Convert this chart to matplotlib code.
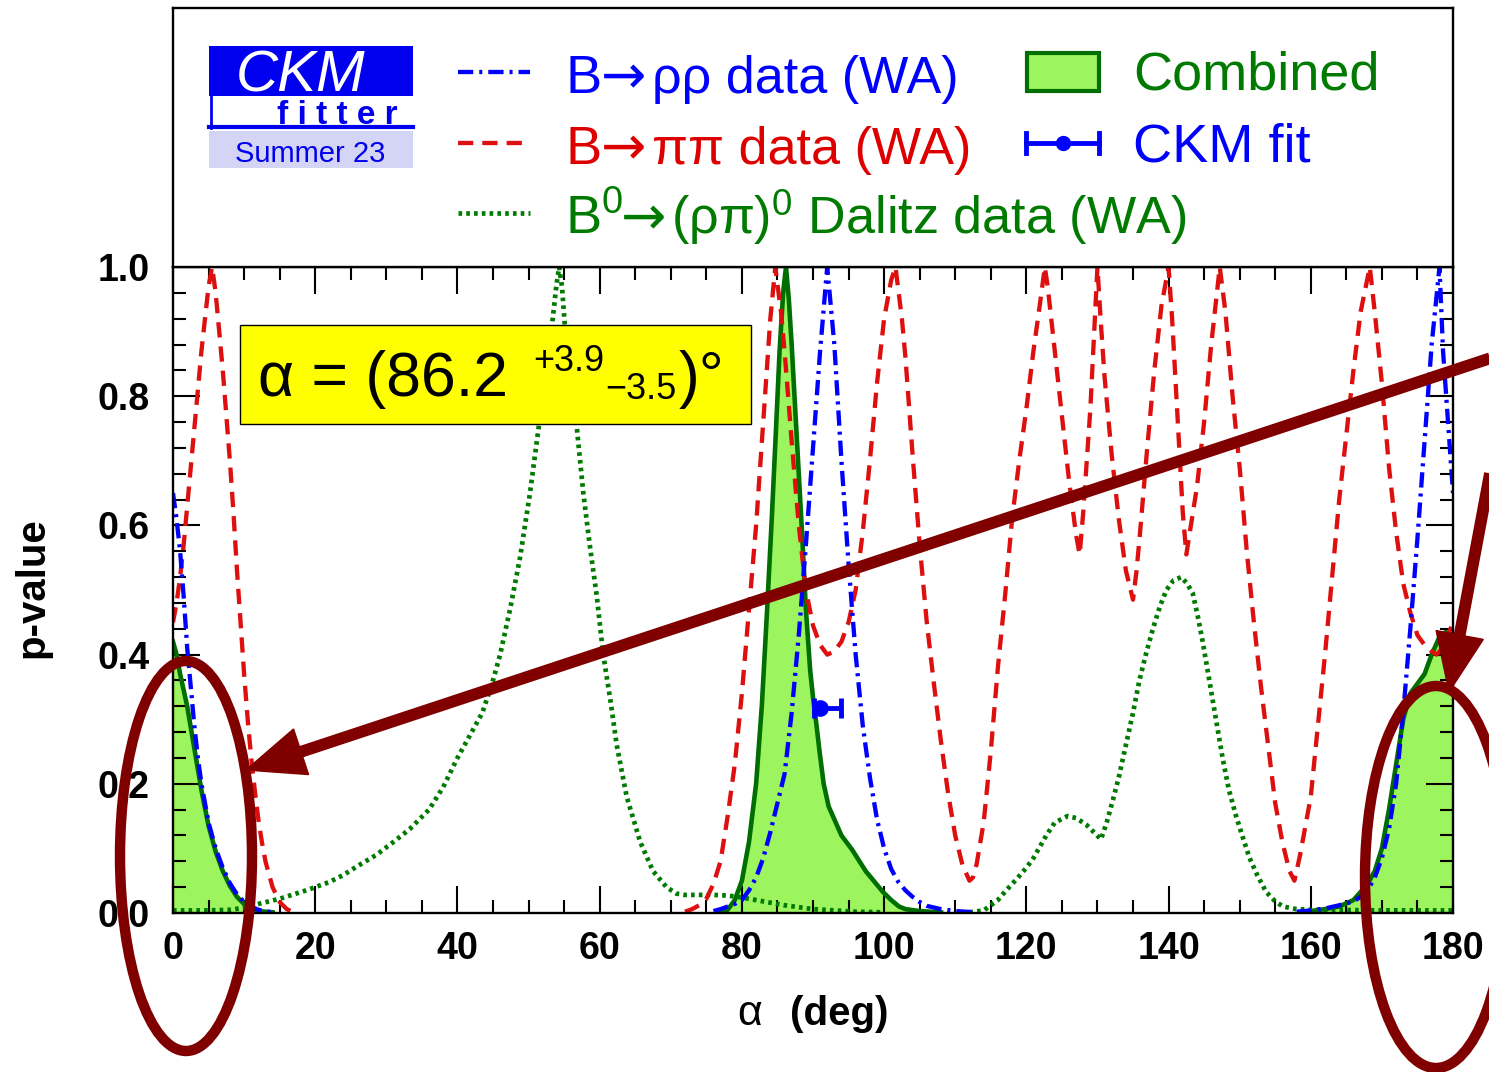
import matplotlib
matplotlib.use("Agg")
import matplotlib.pyplot as plt
from matplotlib.patches import Rectangle, Ellipse, Polygon
from matplotlib.lines import Line2D
from matplotlib.ticker import MultipleLocator, FormatStrFormatter
import numpy as np

W, H, DPI = 1489, 1072, 100

# ---------------- data ----------------
# B -> pi pi (WA)
alpha_pipi = [0, 0.5, 1, 1.5, 2, 2.5, 3, 3.5, 4, 4.5, 5, 5.5, 6, 6.5, 7, 7.5, 8, 8.5, 9, 9.5,
              10, 10.5, 11, 11.5, 12, 12.5, 13, 14, 15, 16, 17, 18,
              71, 72, 73, 74, 75, 76, 77, 78, 79, 80, 81, 82, 83, 84, 84.7, 85.5, 86, 87, 88,
              89, 90, 91, 92, 93, 94, 95, 96, 97, 98, 99, 100, 101, 101.6, 102.5, 103, 104,
              105, 106, 107, 108, 109, 110, 111, 112, 112.5, 113, 114, 115, 116, 117, 118, 119,
              120, 121, 122, 122.6, 123, 124, 125, 126, 127, 127.5, 128, 128.5, 129, 129.5,
              130, 130.5, 131, 132, 133, 134, 135, 135.5, 136, 137, 138, 139, 140, 140.5, 141,
              141.5, 142, 142.5, 143, 144, 145, 146, 147.2, 148, 149, 150, 151, 152, 153, 154,
              155, 156, 157, 157.7, 158.5, 159, 160, 161, 162, 163, 164, 165, 166, 167, 168.3,
              169, 170, 171, 172, 173, 174, 175, 176, 177, 177.7, 178.5, 179.3, 180]
p_pipi = [0.45, 0.48, 0.52, 0.57, 0.63, 0.69, 0.75, 0.81, 0.87, 0.92, 0.97, 1.0, 0.96, 0.90,
          0.84, 0.77, 0.70, 0.62, 0.53, 0.45, 0.37, 0.30, 0.24, 0.19, 0.145, 0.11, 0.08, 0.04,
          0.017, 0.006, 0.001, 0.0,
          0.0, 0.002, 0.006, 0.012, 0.022, 0.045, 0.08, 0.15, 0.23, 0.34, 0.47, 0.60, 0.76,
          0.92, 1.0, 0.93, 0.87, 0.73, 0.60, 0.50, 0.445, 0.415, 0.40, 0.405, 0.42, 0.45, 0.50,
          0.59, 0.70, 0.82, 0.92, 0.98, 1.0, 0.92, 0.86, 0.71, 0.57, 0.45, 0.355, 0.265, 0.185,
          0.12, 0.075, 0.05, 0.055, 0.075, 0.14, 0.25, 0.38, 0.49, 0.61, 0.70, 0.78, 0.87,
          0.95, 1.0, 0.97, 0.87, 0.77, 0.67, 0.585, 0.555, 0.62, 0.70, 0.78, 0.89, 1.0, 0.91,
          0.83, 0.71, 0.61, 0.53, 0.485, 0.53, 0.59, 0.72, 0.84, 0.94, 1.0, 0.92, 0.82, 0.72,
          0.62, 0.555, 0.59, 0.66, 0.76, 0.88, 1.0, 0.93, 0.80, 0.69, 0.56, 0.45, 0.35, 0.26,
          0.17, 0.11, 0.065, 0.05, 0.09, 0.12, 0.18, 0.29, 0.40, 0.52, 0.64, 0.74, 0.84, 0.93,
          1.0, 0.93, 0.82, 0.69, 0.59, 0.51, 0.465, 0.43, 0.415, 0.405, 0.40, 0.41, 0.43, 0.45]

# B -> rho rho (WA)
alpha_rhorho = [0, 0.5, 1, 1.5, 2, 2.5, 3, 3.5, 4, 5, 6, 7, 8, 9, 10, 11, 12, 14, 16,
                74, 76, 77, 78, 79, 80, 81, 82, 83, 84, 85, 86, 87, 88, 89, 90, 91, 92,
                93, 94, 95, 96, 97, 98, 99, 100, 101, 102, 103, 104, 105, 106, 108, 110,
                113, 116, 155, 158, 160, 162, 164, 165, 166, 167, 168, 169, 170, 171, 172,
                173, 174, 175, 176, 177, 178.1, 178.6, 179.3, 180]
p_rhorho = [0.65, 0.61, 0.56, 0.49, 0.41, 0.35, 0.29, 0.24, 0.20, 0.14, 0.10, 0.07, 0.046,
            0.029, 0.017, 0.01, 0.005, 0.001, 0.0,
            0.0, 0.003, 0.006, 0.01, 0.014, 0.02, 0.035, 0.055, 0.085, 0.125, 0.17, 0.215,
            0.31, 0.43, 0.57, 0.72, 0.87, 1.0,
            0.88, 0.70, 0.54, 0.40, 0.29, 0.21, 0.145, 0.10, 0.068, 0.048, 0.035, 0.025,
            0.017, 0.011, 0.006, 0.003, 0.001, 0.0, 0.0, 0.002, 0.004, 0.007, 0.012, 0.015,
            0.018, 0.025, 0.035, 0.055, 0.085, 0.13, 0.20, 0.31, 0.44, 0.58, 0.73, 0.88, 1.0,
            0.87, 0.76, 0.65]

# B0 -> (rho pi)0 Dalitz (WA)
alpha_rhopi = [0, 5, 8, 10, 12, 15, 19, 22, 24, 26, 28.6, 31, 33.3, 36, 38, 40, 42, 43.5, 45,
               46, 47.4, 48.8, 50.2, 51.4, 52.4, 53.3, 53.9, 54.3, 54.7, 55.1, 56, 56.8,
               57.7, 58.6, 59.6, 60.5, 61.5, 62.4, 63.8, 65.7, 67.5, 69.4, 70.8, 72, 74, 76,
               78, 80, 82, 84, 86, 88, 90, 93, 96, 100, 104, 110, 112, 114, 116, 117, 118.6,
               120, 121, 122.8, 124, 125.8, 127, 128.4, 129.5, 130.5, 131.3, 132.2, 133, 134,
               135, 135.9, 136.8, 137.8, 138.8, 139.7, 140.7, 141.8, 142.6, 143.4, 144.1,
               144.8, 145.5, 146.2, 147.6, 148.5, 149.5, 150.5, 151.4, 152.5, 153.7, 155,
               156.1, 158, 160, 170, 180]
p_rhopi = [0.004, 0.004, 0.005, 0.008, 0.014, 0.022, 0.036, 0.048, 0.059, 0.073, 0.09, 0.11,
           0.13, 0.16, 0.195, 0.24, 0.28, 0.31, 0.36, 0.40, 0.47, 0.55, 0.65, 0.75, 0.83,
           0.91, 0.97, 1.0, 0.97, 0.91, 0.83, 0.75, 0.65, 0.57, 0.49, 0.40, 0.33, 0.26, 0.18,
           0.11, 0.065, 0.04, 0.03, 0.028, 0.028, 0.028, 0.027, 0.024, 0.02, 0.016, 0.012,
           0.009, 0.006, 0.004, 0.002, 0.001, 0.0, 0.0, 0.001, 0.004, 0.02, 0.033, 0.052,
           0.07, 0.085, 0.12, 0.14, 0.15, 0.147, 0.137, 0.125, 0.114, 0.14, 0.176, 0.21,
           0.26, 0.31, 0.36, 0.40, 0.44, 0.475, 0.50, 0.515, 0.52, 0.51, 0.495, 0.46, 0.42,
           0.375, 0.33, 0.24, 0.19, 0.15, 0.115, 0.085, 0.058, 0.033, 0.018, 0.01, 0.006,
           0.005, 0.004, 0.004]

# Combined
alpha_comb = [0, 0.5, 1, 2, 3, 4, 5, 6, 7, 8, 9, 10, 11, 12, 14, 16,
              76, 77, 78, 79, 80, 81, 82, 82.8, 83.5, 84.2, 84.8, 85.3, 85.8, 86.2, 86.6,
              87.0, 87.5, 88.0, 88.5, 89.0, 89.6, 90.0, 90.5, 90.9, 91.5, 92.2, 93.2, 94.0,
              95.5, 97.4, 99.8, 101, 102.1, 103, 105, 108, 110,
              155, 160, 162, 164, 166, 168, 169, 170, 171, 172, 173, 174, 175, 176, 177, 178,
              179, 180]
p_comb = [0.42, 0.40, 0.37, 0.32, 0.255, 0.19, 0.135, 0.095, 0.065, 0.042, 0.025, 0.014,
          0.007, 0.003, 0.001, 0.0,
          0.0, 0.001, 0.005, 0.02, 0.05, 0.11, 0.2, 0.32, 0.46, 0.61, 0.75, 0.87, 0.96, 1.0,
          0.95, 0.88, 0.78, 0.68, 0.58, 0.47, 0.376, 0.334, 0.29, 0.252, 0.20, 0.165, 0.14,
          0.12, 0.098, 0.065, 0.033, 0.02, 0.01, 0.006, 0.003, 0.001, 0.0,
          0.0, 0.003, 0.006, 0.01, 0.02, 0.045, 0.065, 0.10, 0.16, 0.23, 0.30, 0.34, 0.355,
          0.37, 0.40, 0.425, 0.435, 0.43]

# CKM fit point
ckm_alpha = 91.0
ckm_p = 0.317
ckm_err_lo = 0.8
ckm_err_hi = 3.0

# Combined result
alpha_central = "86.2"
alpha_up = "+3.9"
alpha_down = "\u22123.5"

x_ticks = [0, 20, 40, 60, 80, 100, 120, 140, 160, 180]
y_ticks = [0.0, 0.2, 0.4, 0.6, 0.8, 1.0]

# legend texts, split around the arrow
label_rhorho = ("B", "\u03c1\u03c1 data (WA)")
label_pipi = ("B", "\u03c0\u03c0 data (WA)")
label_rhopi = ("B$^{0}$", "(\u03c1\u03c0)$^{0}$ Dalitz data (WA)")
label_comb = "Combined"
label_ckm = "CKM fit"

# ---------------- style ----------------
BLUE = "#0000ff"
RED = "#dd0f0f"
GREEN = "#007a00"
DKGREEN = "#006e00"
FILL = "#9cf45e"
MAROON = "#800000"

plt.rcParams["font.family"] = ["Liberation Sans", "DejaVu Sans"]
plt.rcParams["mathtext.fontset"] = "custom"
plt.rcParams["mathtext.rm"] = "Liberation Sans"
plt.rcParams["mathtext.default"] = "regular"
plt.rcParams["lines.scale_dashes"] = False

DASH_RED = (11, 6.5)
DASH_BLUE = (11, 4.3, 2.2, 4.3)
DOT_GREEN = (2.6, 3.0)
LW = 3.1

fig = plt.figure(figsize=(W / DPI, H / DPI), dpi=DPI)


def fx(px):
    return px / W


def fy(py):
    return 1 - py / H


def nonzero(a, p):
    """Hide the stretches where a curve lies exactly on the axis."""
    p = np.asarray(p, float)
    return np.asarray(a, float), np.ma.masked_where(p <= 0, p)


# ---------------- main plot ----------------
ax = fig.add_axes([fx(173), fy(913), 1280 / W, 646 / H])
ax.set_xlim(0, 180)
ax.set_ylim(0, 1)

ax.fill_between(alpha_comb, p_comb, 0, color=FILL, lw=0, zorder=1)
ax.plot(*nonzero(alpha_comb, p_comb), color=DKGREEN, lw=3.3, zorder=2)
ax.plot(*nonzero(alpha_rhopi, p_rhopi), color=GREEN, lw=3.4, dashes=DOT_GREEN, zorder=3)
ax.plot(*nonzero(alpha_pipi, p_pipi), color=RED, lw=LW, dashes=DASH_RED, zorder=4)
ax.plot(*nonzero(alpha_rhorho, p_rhorho), color=BLUE, lw=LW, dashes=DASH_BLUE, zorder=5)
ax.errorbar([ckm_alpha], [ckm_p], xerr=[[ckm_err_lo], [ckm_err_hi]], fmt="o", color=BLUE,
            ms=11, elinewidth=3.5, capsize=7, capthick=3.5, zorder=6)

ax.set_xticks(x_ticks)
ax.set_yticks(y_ticks)
ax.xaxis.set_minor_locator(MultipleLocator(5))
ax.yaxis.set_minor_locator(MultipleLocator(0.04))
ax.yaxis.set_major_formatter(FormatStrFormatter("%.1f"))
ax.tick_params(which="both", direction="in", top=True, right=True, width=1.5, color="black")
ax.tick_params(which="major", length=19.5)
ax.tick_params(which="minor", length=9.5)
ax.tick_params(axis="x", which="major", pad=13, labelsize=27)
ax.tick_params(axis="y", which="major", pad=17, labelsize=27)
for lab in ax.get_xticklabels() + ax.get_yticklabels():
    lab.set_fontweight("bold")
for sp in ax.spines.values():
    sp.set_linewidth(1.7)
    sp.set_zorder(8)

fig.text(fx(32), fy(588), "p-value", rotation=90, fontsize=29, fontweight="bold",
         ha="center", va="center")
fig.text(fx(750), fy(1025), "\u03b1", fontsize=31, ha="center", va="baseline")
fig.text(fx(790), fy(1025), "(deg)", fontsize=29, fontweight="bold", ha="left",
         va="baseline")

# ---------------- legend panel ----------------
lax = fig.add_axes([fx(173), fy(267), 1280 / W, 259 / H])
lax.set_xticks([])
lax.set_yticks([])
for sp in lax.spines.values():
    sp.set_linewidth(1.7)

# overlay in pixel units for legend items and annotations
ov = fig.add_axes([0, 0, 1, 1], zorder=10)
ov.set_xlim(0, W)
ov.set_ylim(H, 0)
ov.axis("off")
ov.patch.set_alpha(0)

# CKMfitter logo
LOGO_BLUE = "#0000ee"
ov.add_patch(Rectangle((209, 46), 204, 50, fc=LOGO_BLUE, ec="none"))
ov.add_patch(Rectangle((209, 96), 204, 31, fc="white", ec="none"))
ov.add_line(Line2D([210.5, 210.5], [96, 128], color=LOGO_BLUE, lw=2))
ov.add_line(Line2D([209, 413], [127, 127], color=LOGO_BLUE, lw=3))
ov.add_patch(Rectangle((209, 131), 204, 37, fc="#d4d4f4", ec="none"))
ov.text(236, 92, "CKM", color="white", fontsize=42, fontstyle="italic", va="baseline")
ov.text(337, 124, "f i t t e r", color=LOGO_BLUE, fontsize=24, fontweight="bold",
        ha="center", va="baseline")
ov.text(310, 162, "Summer 23", color=LOGO_BLUE, fontsize=21, ha="center", va="baseline")

# line samples and labels
LEG_FS = 39
POST_FS = 37.5
rows = [(72, 93, BLUE, BLUE, DASH_BLUE, LW, label_rhorho, 601, 652),
        (143, 164, "#dd0000", RED, DASH_RED, LW, label_pipi, 601, 652),
        (213, 234, GREEN, GREEN, DOT_GREEN, 3.4, label_rhopi, 621, 671)]
for ys, yb, col, lcol, dsh, lw, (pre, post), xarr, xpost in rows:
    ov.add_line(Line2D([458, 530], [ys, ys], color=lcol, lw=lw, dashes=dsh))
    ov.text(565, yb, pre, color=col, fontsize=LEG_FS, va="baseline")
    ov.text(xarr, yb, "\u2192", color=col, fontsize=LEG_FS, va="baseline",
            family="DejaVu Sans")
    ov.text(xpost, yb, post, color=col, fontsize=POST_FS, va="baseline")

ov.add_patch(Rectangle((1027, 53), 72, 38, fc=FILL, ec=DKGREEN, lw=3))
ov.add_line(Line2D([1026, 1099], [143, 143], color=BLUE, lw=3.5))
ov.add_line(Line2D([1026, 1026], [133, 153], color=BLUE, lw=3.5))
ov.add_line(Line2D([1099, 1099], [133, 153], color=BLUE, lw=3.5))
ov.plot([1063], [143], "o", color=BLUE, ms=10)
ov.text(1133, 90, label_comb, color=GREEN, fontsize=LEG_FS, va="baseline")
ov.text(1133, 161, label_ckm, color=BLUE, fontsize=LEG_FS, va="baseline")

# result box
ov.add_patch(Rectangle((240, 325), 511, 99, fc="#ffff00", ec="black", lw=1))
ov.text(258, 396, "\u03b1 = (" + alpha_central, fontsize=45, va="baseline")
ov.text(533, 371, alpha_up, fontsize=26, va="baseline")
ov.text(605, 399, alpha_down, fontsize=26, va="baseline")
ov.text(679, 396, ")\u00b0", fontsize=45, va="baseline")


# arrows and ellipses
def arrow(tail, tip, head_len=58, head_half=24, lw=8.5):
    tail = np.asarray(tail, float)
    tip = np.asarray(tip, float)
    d = tail - tip
    u = d / np.hypot(*d)
    n = np.array([-u[1], u[0]])
    base = tip + head_len * u
    ov.add_line(Line2D([tail[0], base[0]], [tail[1], base[1]], color=MAROON,
                       lw=lw, solid_capstyle="butt"))
    ov.add_patch(Polygon([tip, base + head_half * n, base - head_half * n], closed=True,
                         fc=MAROON, ec=MAROON, lw=1))


arrow((1500, 355), (246, 770))
arrow((1494, 452), (1449, 692))
ov.add_patch(Ellipse((186, 856), 132, 390, fc="none", ec=MAROON, lw=7.5))
ov.add_patch(Ellipse((1436, 877), 142, 382, fc="none", ec=MAROON, lw=7.5))

fig.savefig("out.png", dpi=DPI)
